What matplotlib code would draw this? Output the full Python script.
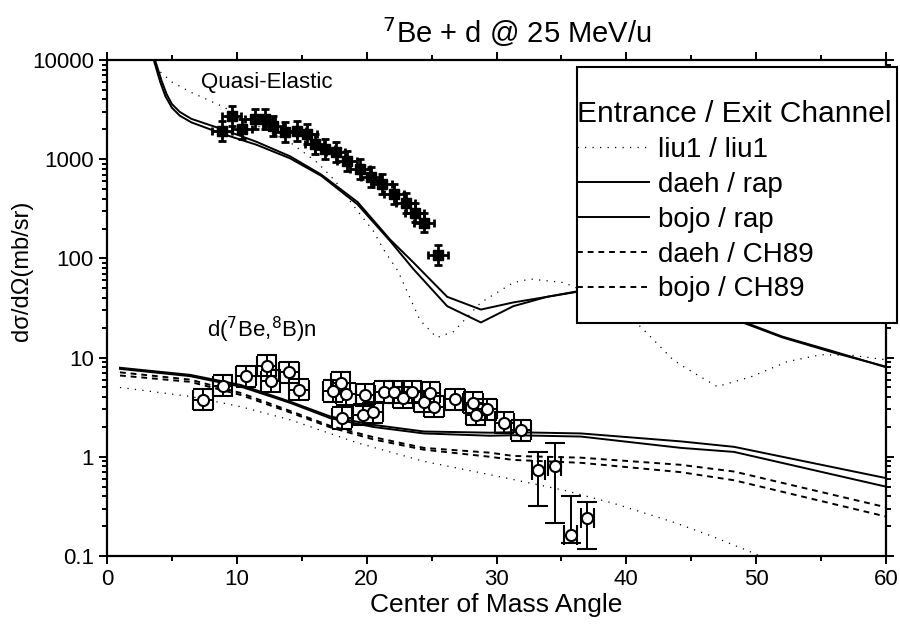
import numpy as np
import matplotlib
matplotlib.use('Agg')
import matplotlib.pyplot as plt
from matplotlib.patches import Rectangle

plt.rcParams['font.family'] = ['Liberation Sans', 'DejaVu Sans']

# ---- elastic (quasi-elastic) calculations ----
el_rap1_x = [3.2, 3.7, 4.2, 4.6, 5.0, 5.6, 6.5, 8.9, 11.5, 14.1, 16.5, 19.3, 21.8, 23.6, 26.2, 28.8, 31.3, 33.9, 36.2, 40.0, 44.0, 48.8, 52.0, 56.0, 60.0]
el_rap1_y = [25000, 10000, 6200, 4500, 3600, 3000, 2550, 2000, 1500, 1070, 700, 370, 155, 91, 41, 30.5, 36, 41, 46.5, 50, 40, 23, 16, 11.2, 8.1]
el_rap2_x = [3.1, 3.6, 4.1, 4.5, 5.0, 5.6, 6.5, 8.9, 11.5, 14.1, 16.5, 19.3, 21.8, 23.6, 26.2, 28.8, 31.3, 33.9, 36.2, 40.0, 44.0, 48.8, 52.0, 56.0, 60.0]
el_rap2_y = [25000, 10000, 6000, 4300, 3300, 2750, 2350, 1800, 1400, 1020, 680, 350, 150, 78, 33, 22.6, 33, 41, 46, 50, 40, 23.5, 16.3, 11.5, 8.0]
el_liu_x = [3.0, 3.85, 5.0, 6.4, 8.9, 11.5, 14.1, 16.2, 17.5, 19.3, 20.5, 21.3, 22.4, 24.1, 25.4, 26.7, 28.8, 31.3, 32.6, 35.2, 38.0, 41.1, 43.6, 44.4, 47.0, 49.6, 52.4, 55.0, 57.5, 60.0]
el_liu_y = [20000, 8100, 6000, 4770, 3400, 2200, 1480, 925, 620, 300, 190, 123, 75, 24, 15.9, 18.3, 36, 57, 62, 57, 40, 20.5, 9.5, 8.1, 5.1, 6.4, 9.1, 10.7, 10.5, 9.5]

# elastic data
el_x = [8.84, 9.6, 10.4, 11.4, 12.2, 12.8, 13.7, 14.6, 15.4, 16.0, 16.8, 17.6, 18.5, 19.5, 20.3, 21.2, 22.1, 23.0, 23.7, 24.4, 25.5]
el_y = [1930, 2740, 2000, 2540, 2540, 2170, 1870, 1930, 1780, 1410, 1260, 1170, 960, 790, 660, 560, 445, 365, 290, 230, 108]
el_xerr = 0.75
el_fac = 1.26

# ---- transfer d(7Be,8B)n calculations ----
tr_x = [1.0, 6.4, 10.3, 14.1, 17.2, 20.5, 24.4, 29.5, 31.3, 36.5, 44.2, 48.3, 60.0]
tr_liu_x = [1.0, 6.4, 10.3, 14.1, 19.3, 24.4, 29.5, 31.3, 35.2, 39.0, 43.6, 46.5, 49.8, 51.0]
tr_liu_y = [5.0, 4.06, 3.2, 2.36, 1.38, 0.9, 0.66, 0.59, 0.46, 0.34, 0.22, 0.16, 0.107, 0.09]
tr_daeh_rap = [7.9, 6.7, 5.3, 3.6, 2.55, 2.1, 1.8, 1.75, 1.77, 1.72, 1.43, 1.26, 0.61]
tr_bojo_rap = [7.7, 6.5, 5.1, 3.5, 2.45, 2.0, 1.72, 1.63, 1.65, 1.6, 1.23, 1.12, 0.50]
tr_daeh_ch89 = [7.1, 6.0, 4.4, 2.9, 2.05, 1.58, 1.23, 1.1, 1.02, 0.98, 0.83, 0.71, 0.31]
tr_bojo_ch89 = [6.6, 5.7, 4.2, 2.8, 1.98, 1.5, 1.18, 1.0, 0.93, 0.87, 0.70, 0.58, 0.25]

# transfer data
td_x = [7.4, 8.9, 10.7, 12.3, 12.6, 14.0, 14.8, 17.4, 18.0, 18.4, 18.1, 19.7, 19.9, 20.5, 21.3, 22.1, 22.8, 23.5, 24.4, 24.9, 25.2, 26.8, 28.2, 28.4, 29.3, 30.6, 31.9]
td_y = [3.75, 5.2, 6.5, 8.3, 5.8, 7.1, 4.75, 4.6, 5.6, 4.3, 2.46, 2.65, 4.2, 2.8, 4.5, 4.5, 3.95, 4.5, 3.6, 4.4, 3.2, 3.8, 3.5, 2.65, 3.0, 2.2, 1.85]
td_xerr = 0.75
td_fac = 1.28
# last points with large asymmetric errors
tl_x = [33.2, 34.5, 35.7, 37.0]
tl_y = [0.73, 0.80, 0.163, 0.242]
tl_lo = [0.32, 0.215, 0.135, 0.118]
tl_hi = [1.13, 1.37, 0.40, 0.35]
tl_xerr = 0.5

fig = plt.figure(figsize=(9, 6.26), dpi=100)
ax = fig.add_axes([107/900, 70/626, 779/900, 496/626])

dot = (0, (1, 5))
dash = (0, (3, 2.5))

ax.plot(el_liu_x, el_liu_y, color='k', lw=0.9, ls=dot)
ax.plot(el_rap1_x, el_rap1_y, color='k', lw=1.4)
ax.plot(el_rap2_x, el_rap2_y, color='k', lw=1.4)

l1, = ax.plot(tr_liu_x, tr_liu_y, color='k', lw=0.9, ls=dot, label='liu1 / liu1')
l2, = ax.plot(tr_x, tr_daeh_rap, color='k', lw=1.4, label='daeh / rap')
l3, = ax.plot(tr_x, tr_bojo_rap, color='k', lw=1.4, label='bojo / rap')
l4, = ax.plot(tr_x, tr_daeh_ch89, color='k', lw=1.4, ls=dash, label='daeh / CH89')
l5, = ax.plot(tr_x, tr_bojo_ch89, color='k', lw=1.4, ls=dash, label='bojo / CH89')

ely = np.array(el_y)
ax.errorbar(el_x, el_y, xerr=el_xerr, yerr=[ely - ely/el_fac, ely*el_fac - ely],
            fmt='s', color='k', ms=7, elinewidth=2.0, capsize=3, capthick=2.0)

tdy = np.array(td_y)
ax.errorbar(td_x, td_y, xerr=td_xerr, yerr=[tdy - tdy/td_fac, tdy*td_fac - tdy],
            fmt='o', color='k', mfc='white', mec='k', mew=1.5, ms=8,
            elinewidth=1.4, capsize=7, capthick=1.4)
tly = np.array(tl_y)
ax.errorbar(tl_x, tl_y, xerr=tl_xerr, yerr=[tly - np.array(tl_lo), np.array(tl_hi) - tly],
            fmt='o', color='k', mfc='white', mec='k', mew=1.5, ms=8,
            elinewidth=1.4, capsize=7, capthick=1.4)

ax.set_yscale('log')
ax.set_xlim(0, 60)
ax.set_ylim(0.1, 10000)
ax.set_xticks([0, 10, 20, 30, 40, 50, 60])
ax.set_xticks([5, 15, 25, 35, 45, 55], minor=True)
ax.set_yticks([0.1, 1, 10, 100, 1000, 10000])
ax.set_yticklabels(['0.1', '1', '10', '100', '1000', '10000'])

for s in ax.spines.values():
    s.set_linewidth(1.6)
ax.tick_params(which='both', labelsize=16, width=1.4)
ax.tick_params(which='major', length=6)
ax.tick_params(which='minor', length=3.5)
ax.tick_params(axis='both', which='both', top=True, right=True)

ax.set_xlabel('Center of Mass Angle', fontsize=19)
ax.xaxis.set_label_coords(0.5, -0.075)
ax.set_ylabel('dσ/dΩ(mb/sr)', fontsize=17)
ax.yaxis.set_label_coords(-0.095, 0.575)

fig.text(517/900, 1 - 32/626, r'$^{7}$Be + d @ 25 MeV/u', fontsize=21, ha='center', va='center')

ax.text(12.3, 6000, 'Quasi-Elastic', fontsize=16, ha='center', va='center')
ax.text(11.9, 19, r'd($^{7}$Be,$^{8}$B)n', fontsize=16, ha='center', va='center')

box = Rectangle((577/900, 1 - 323/626), 320/900, 256/626, transform=fig.transFigure,
                facecolor='white', edgecolor='k', lw=1.5, zorder=5, clip_on=False)
ax.add_patch(box)
leg = ax.legend(handles=[l1, l2, l3, l4, l5], title='Entrance / Exit Channel',
                loc='upper left', bbox_to_anchor=(577/900, 1 - 100/626),
                bbox_transform=fig.transFigure, frameon=False, borderpad=0,
                borderaxespad=0, fontsize=20, title_fontsize=21.5, alignment='left',
                handlelength=2.6, handletextpad=0.3, labelspacing=0.32)
leg.set_zorder(6)

fig.savefig('out.png', dpi=100)
